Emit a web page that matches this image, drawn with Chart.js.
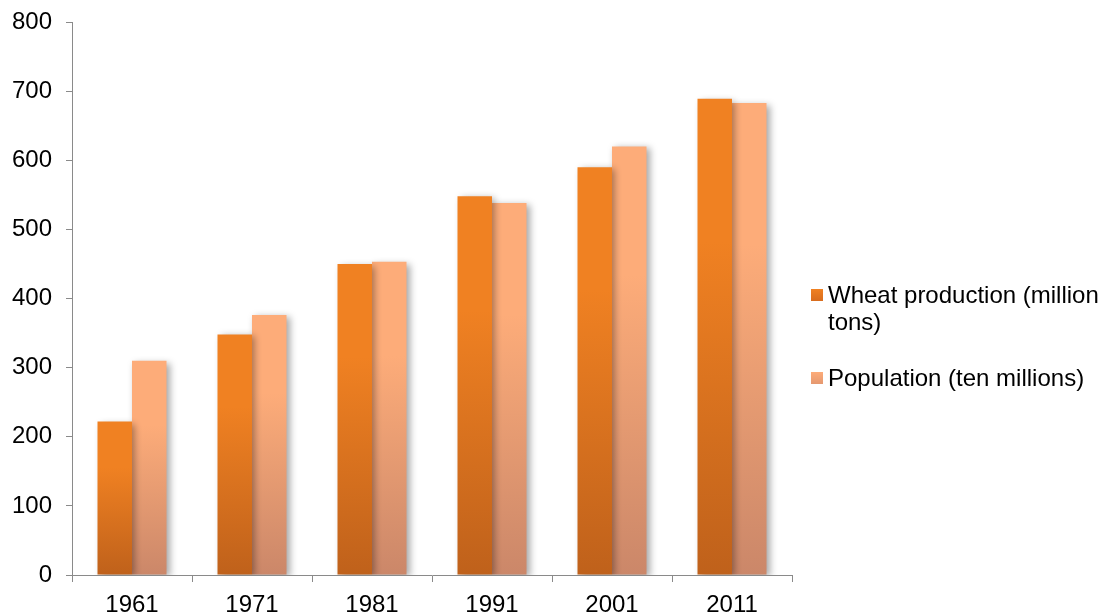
<!DOCTYPE html>
<html>
<head>
<meta charset="utf-8">
<script src="https://cdn.jsdelivr.net/npm/chart.js@4.4.1/dist/chart.umd.min.js"></script>
<style>
  html, body { margin: 0; padding: 0; background: #fff; }
  #wrap { position: relative; width: 1109px; height: 616px; }
  #legend { position: absolute; left: 811px; top: 0; font-family: "Liberation Sans", Arial, sans-serif; font-size: 24px; color: #000; }
  .item { position: absolute; left: 0; white-space: nowrap; line-height: 27px; }
  .sw { position: absolute; left: 0; width: 12px; height: 12px; }
  .tx { position: absolute; left: 17px; top: 0; }
</style>
</head>
<body>
<div id="wrap">
  <canvas id="c" width="1109" height="616"></canvas>
  <div id="legend"></div>
</div>
<script>
const categories = ['1961', '1971', '1981', '1991', '2001', '2011'];
const wheatProduction = [222, 348, 450, 548, 590, 689];
const population = [310, 376, 453, 538, 620, 683];
const yTickValues = [0, 100, 200, 300, 400, 500, 600, 700, 800];
const seriesNames = ['Wheat production (million tons)', 'Population (ten millions)'];

function barGradient(top, bottom) {
  return function (ctx) {
    const chart = ctx.chart;
    if (!chart.chartArea || ctx.type !== 'data') return top;
    const ys = chart.scales.y;
    const v = ctx.parsed ? ctx.parsed.y : ctx.raw;
    const yt = ys.getPixelForValue(v);
    const yb = ys.getPixelForValue(0);
    const g = chart.ctx.createLinearGradient(0, yt, 0, yb);
    g.addColorStop(0, top);
    g.addColorStop(0.3, top);
    g.addColorStop(1, bottom);
    return g;
  };
}

const shadowPlugin = {
  id: 'barShadow',
  beforeDatasetsDraw(chart) {
    const c = chart.ctx;
    c.save();
    c.shadowColor = 'rgba(0,0,0,0.35)';
    c.shadowBlur = 7;
    c.shadowOffsetX = 3;
    c.shadowOffsetY = 2;
  },
  afterDatasetsDraw(chart) {
    chart.ctx.restore();
  }
};

const axisColor = '#8a8a8a';
const font = { family: '"Liberation Sans", Arial, sans-serif', size: 24 };

new Chart(document.getElementById('c'), {
  type: 'bar',
  data: {
    labels: categories,
    datasets: [
      { label: seriesNames[0], data: wheatProduction, backgroundColor: barGradient('#F08122', '#BF611B'), borderWidth: 0, barPercentage: 1, categoryPercentage: 0.575 },
      { label: seriesNames[1], data: population, backgroundColor: barGradient('#FDAC79', '#CB8769'), borderWidth: 0, barPercentage: 1, categoryPercentage: 0.575 }
    ]
  },
  options: {
    responsive: false,
    animation: false,
    layout: { padding: { left: 0, right: 317, top: 22, bottom: 0 } },
    plugins: { legend: { display: false }, tooltip: { enabled: false } },
    scales: {
      x: {
        offset: true,
        grid: { display: true, offset: true, drawOnChartArea: false, drawTicks: true, tickLength: 7, color: axisColor, lineWidth: 1 },
        border: { display: true, color: axisColor, width: 1 },
        ticks: { color: '#000', font: font, padding: 9, maxRotation: 0 },
        afterFit(s) { s.height = 41; s.paddingLeft = 0; s.paddingRight = 0; }
      },
      y: {
        min: 0, max: 800,
        afterBuildTicks(s) { s.ticks = yTickValues.map(v => ({ value: v })); },
        grid: { display: true, drawOnChartArea: false, drawTicks: true, tickLength: 6, color: axisColor, lineWidth: 1 },
        border: { display: true, color: axisColor, width: 1 },
        ticks: { color: '#000', font: font, padding: 14 },
        afterFit(s) { s.width = 72; s.paddingTop = 0; s.paddingBottom = 0; }
      }
    }
  },
  plugins: [shadowPlugin]
});

// HTML legend
const legend = document.getElementById('legend');
const legendItems = [
  { lines: ['Wheat production (million', 'tons)'], top: 281, color: 'linear-gradient(#F08122, #D86C1E)' },
  { lines: ['Population (ten millions)'], top: 364, color: 'linear-gradient(#FDAC79, #E59870)' }
];
legendItems.forEach(it => {
  const d = document.createElement('div');
  d.className = 'item';
  d.style.top = it.top + 'px';
  const sw = document.createElement('div');
  sw.className = 'sw';
  sw.style.top = '8px';
  sw.style.background = it.color;
  const tx = document.createElement('div');
  tx.className = 'tx';
  tx.innerHTML = it.lines.join('<br>');
  d.appendChild(sw);
  d.appendChild(tx);
  legend.appendChild(d);
});
</script>
</body>
</html>
